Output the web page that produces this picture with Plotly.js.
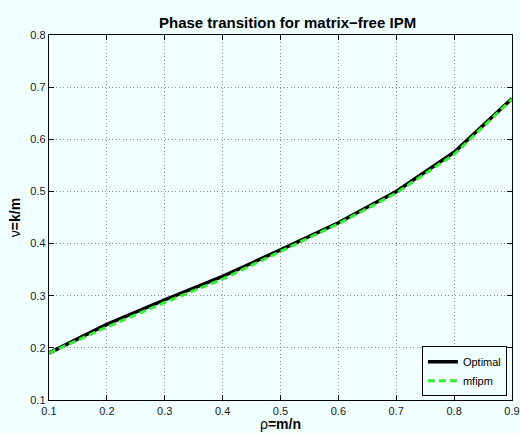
<!DOCTYPE html>
<html>
<head>
<meta charset="utf-8">
<script src="https://cdn.plot.ly/plotly-3.0.1.min.js"></script>
<style>html,body{margin:0;padding:0;background:#f0ffff;}</style>
</head>
<body>
<div id="chart" style="width:520px;height:433px;"></div>
<script>
const rho = [0.1, 0.2, 0.3, 0.4, 0.5, 0.6, 0.7, 0.8, 0.9];
const optimal = [0.190, 0.245, 0.292, 0.337, 0.388, 0.440, 0.500, 0.575, 0.678];
const mfipm = [0.190, 0.240, 0.287, 0.332, 0.385, 0.438, 0.497, 0.571, 0.677];
const xTicks = [0.1, 0.2, 0.3, 0.4, 0.5, 0.6, 0.7, 0.8, 0.9];
const yTicks = [0.1, 0.2, 0.3, 0.4, 0.5, 0.6, 0.7, 0.8];

const bg = '#f0ffff';
const traces = [
  {x: rho, y: optimal, name: 'Optimal', mode: 'lines', line: {color: '#000000', width: 3.5}},
  {x: rho, y: mfipm, name: 'mfipm', mode: 'lines', line: {color: '#33ee33', width: 3, dash: '7px,4px'}}
];
const axisCommon = {
  showline: true, linecolor: '#000', linewidth: 1.3, mirror: 'ticks',
  ticks: 'inside', ticklen: 5, tickcolor: '#000', tickwidth: 1,
  showgrid: true, gridcolor: '#8c8c8c', griddash: '1px,2.5px', gridwidth: 1,
  zeroline: false, tickformat: '.1f',
  tickfont: {family: 'Liberation Sans, Arial, sans-serif', size: 11, color: '#1a1a1a'}
};
const layout = {
  width: 520, height: 433,
  paper_bgcolor: bg, plot_bgcolor: bg,
  margin: {l: 49, r: 8, t: 35, b: 33},
  title: {text: '<b>Phase transition for matrix−free IPM</b>', x: 0.553, xanchor: 'center', xref: 'container',
          y: 0.948, yanchor: 'middle', yref: 'container',
          font: {family: 'Liberation Sans, Arial, sans-serif', size: 15, color: '#000'}},
  xaxis: Object.assign({}, axisCommon, {range: [0.1, 0.9], tickvals: xTicks,
    title: {text: 'ρ<b>=m/n</b>', standoff: 2, font: {family: 'Liberation Sans, Arial, sans-serif', size: 14, color: '#000'}}}),
  yaxis: Object.assign({}, axisCommon, {range: [0.1, 0.8], tickvals: yTicks,
    title: {text: 'ν<b>=k/m</b>', standoff: 6, font: {family: 'Liberation Sans, Arial, sans-serif', size: 14, color: '#000'}}}),
  showlegend: true,
  legend: {x: 0.989, y: 0.01, xanchor: 'right', yanchor: 'bottom', bgcolor: bg, bordercolor: '#000', borderwidth: 1,
    itemwidth: 30, tracegroupgap: 0,
    font: {family: 'Liberation Sans, Arial, sans-serif', size: 11, color: '#000'}}
};
Plotly.newPlot('chart', traces, layout, {displayModeBar: false, staticPlot: true});
</script>
</body>
</html>
